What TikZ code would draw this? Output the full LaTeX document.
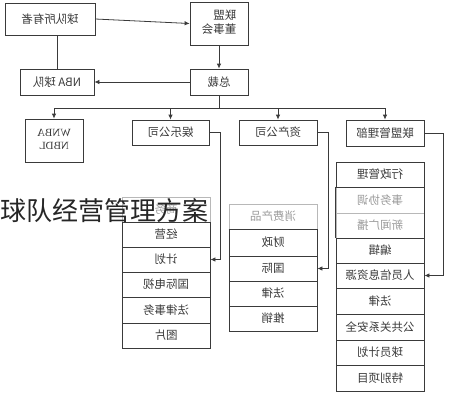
\documentclass[tikz,border=0pt]{standalone}
\usepackage{fontspec}
\usepackage{graphicx}
\setmainfont{Noto Sans CJK SC}
\newfontfamily\latinf{Liberation Serif}
\usetikzlibrary{arrows.meta}
\definecolor{ink}{HTML}{3A3A3A}
\definecolor{faint}{HTML}{9A9A9A}
\newcommand\mirr[1]{\reflectbox{#1}}
\begin{document}
\begin{tikzpicture}[x=1pt,y=-1pt,
  box/.style={draw=ink, line width=0.8pt, inner sep=0pt, align=center, text=ink,
    font=\fontsize{11.5}{13}\selectfont},
  cellA/.style={box, minimum width=88pt},
  greycell/.style={draw=faint!70, line width=0.8pt, inner sep=0pt, text=faint,
    minimum width=88pt, font=\fontsize{11.5}{13}\selectfont},
  conn/.style={draw=ink, line width=0.8pt},
  arr/.style={conn, -{Latex[length=5pt,width=4.5pt]}}]
\useasboundingbox (0,0) rectangle (469,400);

% top level
\node[box, minimum width=90pt, minimum height=32pt] (owner) at (50,19) {\mirr{球队所有者}};
\node[box, minimum width=58pt, minimum height=43pt] (board) at (219,23.5)
  {\mirr{\begin{tabular}{@{}l@{}}联盟\\董事会\end{tabular}}};
\node[box, minimum width=74pt, minimum height=26pt] (nba) at (57,82) {\mirr{NBA 球队}};
\node[box, minimum width=58pt, minimum height=26pt] (pres) at (219,82) {\mirr{总裁}};

\node[box, minimum width=58pt, minimum height=43pt, font=\latinf\fontsize{11}{13}\selectfont] (wnba) at (54,140.5)
  {\mirr{\begin{tabular}{@{}c@{}}WNBA\\NBDL\end{tabular}}};
\node[box, minimum width=77pt, minimum height=25pt] (ent) at (170.5,132.5) {\mirr{娱乐公司}};
\node[box, minimum width=78pt, minimum height=25pt] (asset) at (278,132.5) {\mirr{资产公司}};
\node[box, minimum width=78pt, minimum height=26pt] (lmgmt) at (385,133) {\mirr{联盟管理部}};

% left column (entertainment)
\node[greycell, minimum height=25pt] (e0) at (166,209.5) {\mirr{商务}};
\node[cellA, minimum height=25pt] (e1) at (166,234.5) {\mirr{经营}};
\node[cellA, minimum height=25pt] (e2) at (166,259.5) {\mirr{计划}};
\node[cellA, minimum height=25pt] (e3) at (166,284.5) {\mirr{国际电视}};
\node[cellA, minimum height=26pt] (e4) at (166,310) {\mirr{法律事务}};
\node[cellA, minimum height=25pt] (e5) at (166,335.5) {\mirr{图片}};

% middle column (assets)
\node[greycell, minimum height=25pt] (a0) at (273,216.5) {\mirr{消费产品}};
\node[cellA, minimum height=27pt] (a1) at (273,242.5) {\mirr{财政}};
\node[cellA, minimum height=25pt] (a2) at (273,268.5) {\mirr{国际}};
\node[cellA, minimum height=25pt] (a3) at (273,293.5) {\mirr{法律}};
\node[cellA, minimum height=25pt] (a4) at (273,318.5) {\mirr{推销}};
\draw[ink, line width=1.6pt] (a0.south west) -- (a0.south east);

% right column (league management)
\node[greycell, minimum height=26pt] (m2) at (380,200) {\mirr{事务协调}};
\node[greycell, minimum height=25pt] (m3) at (380,225.5) {\mirr{新闻广播}};
\node[cellA, minimum height=25pt] (m1) at (380,174.5) {\mirr{行政管理}};
\node[cellA, minimum height=25pt] (m4) at (380,250.5) {\mirr{编辑}};
\node[cellA, minimum height=25pt] (m5) at (380,275.5) {\mirr{人员信息资源}};
\node[cellA, minimum height=26pt] (m6) at (380,301) {\mirr{法律}};
\node[cellA, minimum height=26pt] (m7) at (380,327) {\mirr{公共关系安全}};
\node[cellA, minimum height=25pt] (m8) at (380,352.5) {\mirr{球员计划}};
\node[cellA, minimum height=26pt] (m9) at (380,378) {\mirr{特别项目}};
\draw[draw=ink, line width=0.8pt] (m2.north west) -- (m3.south west) (m2.north east) -- (m3.south east);

% connectors
\draw[arr] (owner.east) -- (board.west);
\draw[conn] (owner.south -| nba.north) -- (nba.north);
\draw[arr] (board.south) -- (pres.north);
\draw[arr] (pres.west) -- (nba.east);
\coordinate (bus) at (219,108);
\draw[conn] (pres.south) -- (bus);
\draw[conn] (wnba.north |- bus) -- (lmgmt.north |- bus);
\draw[arr] (wnba.north |- bus) -- (wnba.north);
\draw[arr] (ent.north |- bus) -- (ent.north);
\draw[arr] (asset.north |- bus) -- (asset.north);
\draw[arr] (lmgmt.north |- bus) -- (lmgmt.north);
\draw[arr] (ent.east) -- ++(11,0) |- (e2.east);
\draw[arr] (asset.east) -- ++(11,0) |- (a2.east);
\draw[arr] (lmgmt.east) -- ++(19,0) |- (m5.east);

% overlaid title
\node[anchor=west, inner sep=0pt, text=black!85, font=\fontsize{26}{28}\selectfont] (title) at (0,211) {球队经营管理方案};
\end{tikzpicture}
\end{document}
